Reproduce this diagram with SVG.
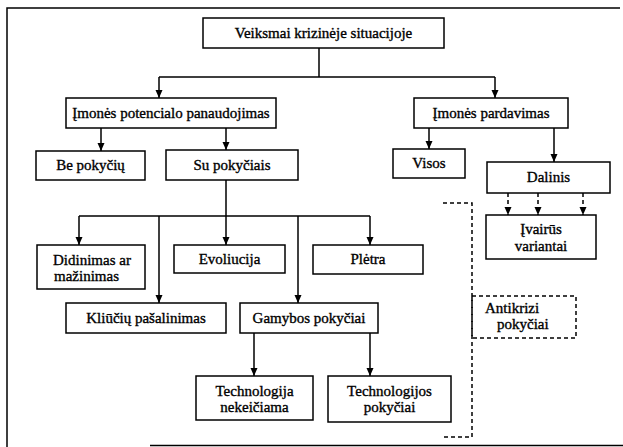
<svg xmlns="http://www.w3.org/2000/svg" width="623" height="447" viewBox="0 0 623 447">
<defs>
<style>
.box{fill:#fff;stroke:#000;stroke-width:1.5}
.dbox{fill:none;stroke:#000;stroke-width:1.5;stroke-dasharray:4 3}
.ln{fill:none;stroke:#000;stroke-width:1.5}
.dl{fill:none;stroke:#000;stroke-width:1.5;stroke-dasharray:4 3}
.frame{fill:none;stroke:#000;stroke-width:1.5}
.t{font-size:15px;fill:#000;stroke:#000;stroke-width:0.35;text-anchor:middle}
.l{text-anchor:start}
</style>
<marker id="ah" viewBox="0 0 8 8" refX="8" refY="4" markerWidth="8" markerHeight="8" markerUnits="userSpaceOnUse" orient="auto">
<path d="M0,0.5 L8,4 L0,7.5 z" fill="#000"/>
</marker>
</defs>
<rect width="623" height="447" fill="#fff"/>
<path class="frame" d="M620,8 L7,8 L7,447 M150,445.5 L623,445.5"/>

<g id="connectors">
<path class="ln" d="M319,48 V77 M159,77 H495"/>
<path class="ln" d="M159,77 V98" marker-end="url(#ah)"/>
<path class="ln" d="M495,77 V98" marker-end="url(#ah)"/>
<path class="ln" d="M101,128 V151" marker-end="url(#ah)"/>
<path class="ln" d="M226,128 V150" marker-end="url(#ah)"/>
<path class="ln" d="M429,128 V149" marker-end="url(#ah)"/>
<path class="ln" d="M554,128 V162" marker-end="url(#ah)"/>
<path class="dl" d="M508,193 V215" marker-end="url(#ah)"/>
<path class="dl" d="M538,193 V215" marker-end="url(#ah)"/>
<path class="dl" d="M583,193 V215" marker-end="url(#ah)"/>
<path class="ln" d="M226,180 V216 M79,216 H370"/>
<path class="ln" d="M79,216 V245" marker-end="url(#ah)"/>
<path class="ln" d="M226,216 V245" marker-end="url(#ah)"/>
<path class="ln" d="M370,216 V245" marker-end="url(#ah)"/>
<path class="ln" d="M159,216 V303" marker-end="url(#ah)"/>
<path class="ln" d="M298,216 V303" marker-end="url(#ah)"/>
<path class="ln" d="M254,333 V376" marker-end="url(#ah)"/>
<path class="ln" d="M370,333 V376" marker-end="url(#ah)"/>
<path class="dl" d="M443,203 H472 V437 H443"/>
</g>

<g font-family="'Liberation Serif', 'DejaVu Serif', serif">
<g id="n-veiksmai"><rect class="box" x="203" y="18" width="241" height="30"/><text class="t" x="323.5" y="38">Veiksmai krizinėje situacijoje</text></g>
<g id="n-potencialo"><rect class="box" x="66" y="98" width="210" height="30"/><text class="t" x="171" y="118">Įmonės potencialo panaudojimas</text></g>
<g id="n-pardavimas"><rect class="box" x="414" y="98" width="154" height="30"/><text class="t" x="491" y="118">Įmonės pardavimas</text></g>
<g id="n-be"><rect class="box" x="36" y="151" width="109" height="29"/><text class="t" x="90.5" y="170">Be pokyčių</text></g>
<g id="n-su"><rect class="box" x="166" y="150" width="132" height="30"/><text class="t" x="232" y="170">Su pokyčiais</text></g>
<g id="n-visos"><rect class="box" x="393" y="149" width="72" height="29"/><text class="t" x="429" y="168">Visos</text></g>
<g id="n-dalinis"><rect class="box" x="487" y="162" width="123" height="31"/><text class="t" x="548.5" y="182">Dalinis</text></g>
<g id="n-ivairus"><rect class="box" x="486" y="215" width="110" height="44"/><text class="t" x="541" y="234">Įvairūs</text><text class="t" x="541" y="251">variantai</text></g>
<g id="n-didinimas"><rect class="box" x="37" y="245" width="108" height="44"/><text class="t l" x="53" y="265">Didinimas ar</text><text class="t l" x="54" y="281">mažinimas</text></g>
<g id="n-evoliucija"><rect class="box" x="174" y="245" width="111" height="28"/><text class="t" x="229.5" y="264">Evoliucija</text></g>
<g id="n-pletra"><rect class="box" x="313" y="245" width="110" height="29"/><text class="t" x="368" y="264">Plėtra</text></g>
<g id="n-kliuciu"><rect class="box" x="66" y="303" width="160" height="30"/><text class="t" x="146" y="323">Kliūčių pašalinimas</text></g>
<g id="n-gamybos"><rect class="box" x="240" y="303" width="138" height="30"/><text class="t" x="309" y="323">Gamybos pokyčiai</text></g>
<g id="n-antikrizi"><rect class="dbox" x="472" y="296" width="104" height="42"/><text class="t l" x="485" y="313">Antikrizi</text><text class="t l" x="497" y="329">pokyčiai</text></g>
<g id="n-technekeic"><rect class="box" x="196" y="376" width="117" height="44"/><text class="t" x="254.5" y="396">Technologija</text><text class="t" x="254.5" y="412">nekeičiama</text></g>
<g id="n-techpok"><rect class="box" x="328" y="376" width="123" height="46"/><text class="t" x="389.5" y="396">Technologijos</text><text class="t" x="389.5" y="412">pokyčiai</text></g>
</g>
</svg>
